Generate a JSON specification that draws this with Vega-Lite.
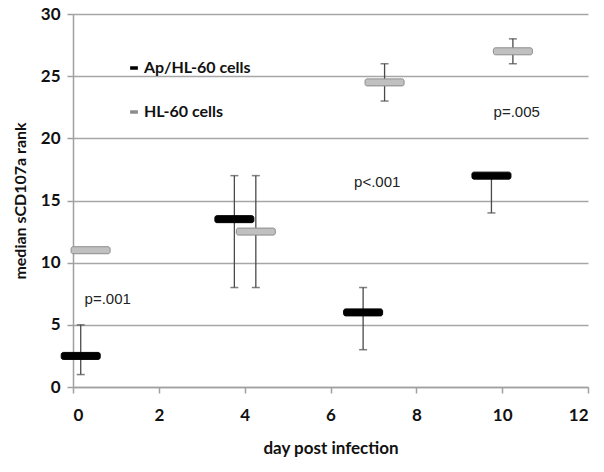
{
  "$schema": "https://vega.github.io/schema/vega-lite/v6.json",
  "autosize": "none",
  "width": 515,
  "height": 373,
  "padding": {"left": 73, "top": 14, "right": 16, "bottom": 85},
  "background": "white",
  "config": {"view": {"stroke": null}},
  "data": {"values": [
    {"series": "Ap/HL-60 cells", "day": 0.18, "median": 2.5, "low": 1, "high": 5},
    {"series": "Ap/HL-60 cells", "day": 3.76, "median": 13.5, "low": 8, "high": 17},
    {"series": "Ap/HL-60 cells", "day": 6.76, "median": 6, "low": 3, "high": 8},
    {"series": "Ap/HL-60 cells", "day": 9.75, "median": 17, "low": 14, "high": 17},
    {"series": "HL-60 cells", "day": 0.41, "median": 11, "low": null, "high": null},
    {"series": "HL-60 cells", "day": 4.26, "median": 12.5, "low": 8, "high": 17},
    {"series": "HL-60 cells", "day": 7.26, "median": 24.5, "low": 23, "high": 26},
    {"series": "HL-60 cells", "day": 10.25, "median": 27, "low": 26, "high": 28}
  ]},
  "layer": [
    {
      "transform": [{"filter": "isValid(datum.low)"}],
      "mark": {"type": "rule", "color": "#4a4a4a", "strokeWidth": 1.3},
      "encoding": {
        "x": {"field": "day", "type": "quantitative", "scale": {"domain": [0, 12], "nice": false},
          "axis": {"values": [0, 2, 4, 6, 8, 10, 12], "title": "day post infection", "grid": false,
            "domainColor": "#a0a0a0", "domainWidth": 1.5, "tickColor": "#a0a0a0", "tickWidth": 1.5, "tickSize": 6,
            "labelFont": "Lato", "labelFontWeight": "bold", "labelFontSize": 17, "labelColor": "#111", "labelPadding": 14,
            "titleFont": "Lato", "titleFontWeight": "bold", "titleFontSize": 17, "titleColor": "#111", "titlePadding": 17}},
        "y": {"field": "low", "type": "quantitative", "scale": {"domain": [0, 30], "nice": false},
          "axis": {"values": [0, 5, 10, 15, 20, 25, 30], "title": "median sCD107a rank", "grid": true,
            "gridColor": "#a6a6a6", "gridWidth": 1.5, "domainColor": "#a0a0a0", "domainWidth": 1.5,
            "tickColor": "#a0a0a0", "tickWidth": 1.5, "tickSize": 6,
            "labelFont": "Lato", "labelFontWeight": "bold", "labelFontSize": 17, "labelColor": "#111", "labelPadding": 7,
            "titleFont": "Lato", "titleFontWeight": "bold", "titleFontSize": 16, "titleColor": "#111", "titlePadding": 12}},
        "y2": {"field": "high"}
      }
    },
    {
      "transform": [{"filter": "isValid(datum.low)"}],
      "mark": {"type": "tick", "orient": "horizontal", "color": "#4a4a4a", "size": 8, "thickness": 1.5},
      "encoding": {
        "x": {"field": "day", "type": "quantitative"},
        "y": {"field": "low", "type": "quantitative"}
      }
    },
    {
      "transform": [{"filter": "isValid(datum.high)"}],
      "mark": {"type": "tick", "orient": "horizontal", "color": "#4a4a4a", "size": 8, "thickness": 1.5},
      "encoding": {
        "x": {"field": "day", "type": "quantitative"},
        "y": {"field": "high", "type": "quantitative"}
      }
    },
    {
      "mark": {"type": "tick", "orient": "horizontal", "size": 39, "thickness": 7, "cornerRadius": 2, "strokeWidth": 1, "opacity": 1},
      "encoding": {
        "x": {"field": "day", "type": "quantitative"},
        "y": {"field": "median", "type": "quantitative"},
        "color": {"field": "series", "type": "nominal",
          "scale": {"domain": ["Ap/HL-60 cells", "HL-60 cells"], "range": ["#000000", "#c0c0c0"]},
          "legend": {"orient": "none", "legendX": 53, "legendY": 46, "title": null, "padding": 0,
            "symbolType": "stroke", "symbolSize": 60, "symbolStrokeWidth": 3.5, "labelOffset": 2,
            "rowPadding": 28, "labelFont": "Lato", "labelFontWeight": "bold", "labelFontSize": 16, "labelColor": "#111",
            "symbolOpacity": 1,
            "encode": {"symbols": {"update": {"stroke": {"scale": "color", "field": "value"}}}}}},
        "stroke": {"field": "series", "type": "nominal",
          "scale": {"domain": ["Ap/HL-60 cells", "HL-60 cells"], "range": ["#000000", "#8c8c8c"]},
          "legend": null}
      }
    },
    {
      "data": {"values": [
        {"label": "p=.001", "day": 0.27, "value": 7.1},
        {"label": "p<.001", "day": 6.55, "value": 16.5},
        {"label": "p=.005", "day": 9.8, "value": 22.1}
      ]},
      "mark": {"type": "text", "align": "left", "baseline": "middle", "font": "Liberation Sans", "fontSize": 15, "color": "#222"},
      "encoding": {
        "x": {"field": "day", "type": "quantitative"},
        "y": {"field": "value", "type": "quantitative"},
        "text": {"field": "label"}
      }
    }
  ]
}
